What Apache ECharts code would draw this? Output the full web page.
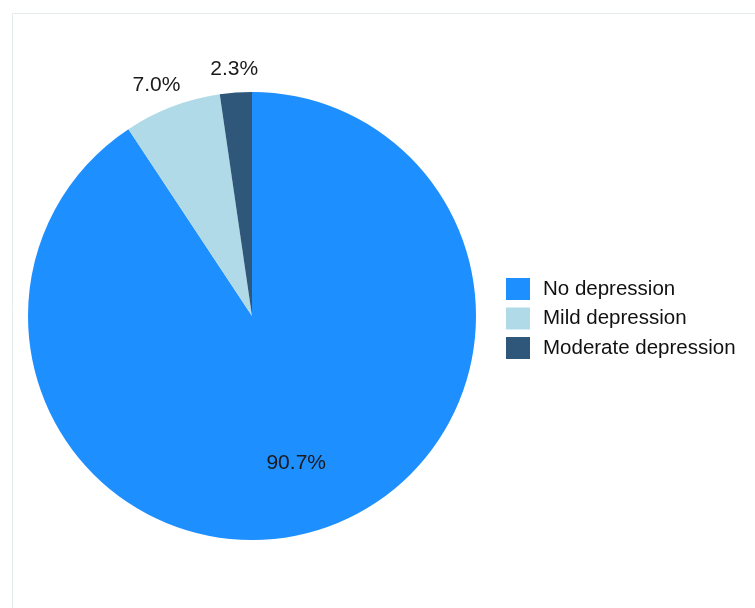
<!DOCTYPE html>
<html>
<head>
<meta charset="utf-8">
<script src="https://cdn.jsdelivr.net/npm/echarts@6/dist/echarts.min.js"></script>
<style>html,body{margin:0;padding:0;background:#fff;}#c{width:755px;height:608px;}</style>
</head>
<body>
<div id="c"></div>
<script>
var categories = ['No depression', 'Mild depression', 'Moderate depression'];
var values = [90.7, 7.0, 2.3];
var colors = ['#1E8FFF', '#B0DAE8', '#2E5779'];

var font = '"Liberation Sans", Arial, sans-serif';
var chart = echarts.init(document.getElementById('c'), null, {renderer: 'canvas'});

function mainData() {
  return categories.map(function (n, i) {
    return { name: n, value: values[i], itemStyle: { color: colors[i] } };
  });
}
function labelData(showIdx, pads) {
  return categories.map(function (n, i) {
    return {
      name: n, value: values[i],
      itemStyle: { color: 'rgba(0,0,0,0)' },
      label: { show: showIdx.indexOf(i) >= 0, padding: (pads && pads[i]) || 0 }
    };
  });
}
var labelStyle = {
  position: 'inside',
  formatter: function (p) { return p.value.toFixed(1) + '%'; },
  fontSize: 21,
  fontFamily: font,
  color: '#1a1a1a'
};

chart.setOption({
  animation: false,
  backgroundColor: '#ffffff',
  graphic: [{
    type: 'rect', silent: true, z: -1,
    shape: { x: 12.5, y: 13.5, width: 760, height: 620 },
    style: { fill: 'none', stroke: '#e5ebeb', lineWidth: 1 }
  }],
  legend: {
    orient: 'vertical',
    left: 506, top: 278,
    padding: 0,
    itemWidth: 24, itemHeight: 22, itemGap: 7.5,
    icon: 'rect',
    data: categories,
    textStyle: { fontSize: 20.5, fontFamily: font, color: '#111111', padding: [0, 0, 0, 8] }
  },
  series: [
    {
      type: 'pie', center: [252, 316], radius: [0, 224],
      startAngle: 90, clockwise: true, silent: true,
      label: { show: false }, labelLine: { show: false },
      data: mainData()
    },
    {
      type: 'pie', center: [252, 316], radius: [223, 265],
      startAngle: 90, clockwise: true, silent: true,
      label: labelStyle, labelLine: { show: false },
      data: labelData([1, 2], [0, [5, 15, 0, 0], 0])
    },
    {
      type: 'pie', center: [252, 316], radius: [77, 224],
      startAngle: 90, clockwise: true, silent: true,
      label: labelStyle, labelLine: { show: false },
      data: labelData([0])
    }
  ]
});
</script>
</body>
</html>
